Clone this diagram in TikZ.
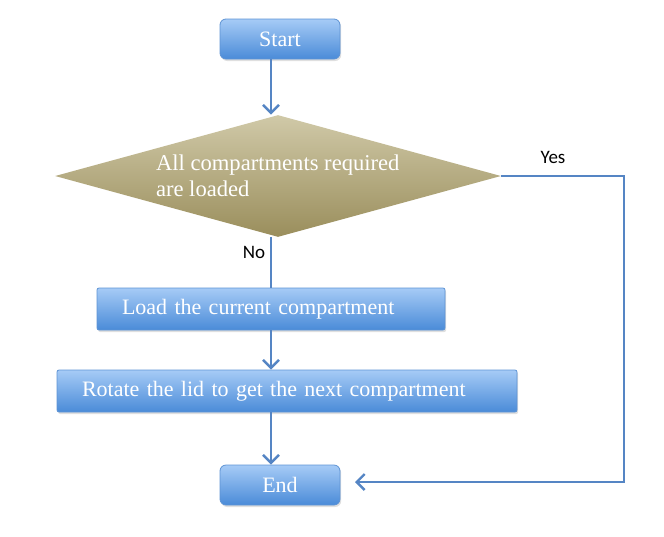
\documentclass[tikz,border=0pt]{standalone}
\usepackage{fontspec}
\setmainfont{Liberation Serif}
\newfontfamily\labelfont{Carlito}
\usetikzlibrary{arrows.meta,shapes.geometric,shadows}
\definecolor{boxtop}{HTML}{A6CBF6}
\definecolor{boxbot}{HTML}{4A8BD8}
\definecolor{boxline}{HTML}{5E93D4}
\definecolor{decitop}{HTML}{D0C9A8}
\definecolor{decibot}{HTML}{9A8E5C}
\definecolor{flowline}{HTML}{5585C4}

\tikzset{
  boxtext/.style={font=\fontsize{11}{13}\selectfont,text=white},
  terminal/.style={boxtext,draw=boxline,line width=0.4pt,top color=boxtop,bottom color=boxbot,
    rounded corners=3pt,minimum width=60pt,minimum height=20pt,inner sep=0pt,
    drop shadow={opacity=0.25,shadow xshift=0.6pt,shadow yshift=-1pt}},
  process/.style={boxtext,draw=boxline,line width=0.4pt,top color=boxtop,bottom color=boxbot,
    rounded corners=1pt,minimum height=21pt,inner xsep=12.5pt,inner ysep=0pt,align=left,
    drop shadow={opacity=0.25,shadow xshift=0.6pt,shadow yshift=-1pt}},
  decision/.style={boxtext,font=\fontsize{11.3}{13}\selectfont,diamond,top color=decitop,
    bottom color=decibot,aspect=3.6,inner sep=0pt,minimum width=223pt,minimum height=61pt,align=left},
  flow/.style={flowline,line width=1.4pt,-{Straight Barb[length=4pt,width=8pt,line width=1.2pt]}},
  plain/.style={flowline,line width=1.4pt},
  answer/.style={font=\labelfont\fontsize{9.5}{11}\selectfont}
}

\begin{document}
\begin{tikzpicture}[x=0.5pt,y=-0.5pt]
  \useasboundingbox (0,0) rectangle (664,536);

  \node[terminal] (start) at (280,39) {Start};
  \node[decision] (diam) at (278,176) {\raisebox{2pt}{\parbox{122pt}{All compartments required\\are loaded}}};
  \node[process,text width=149pt] (load) at (271,309) {Load the current compartment};
  \node[process,text width=205pt] (rot) at (287,391) {Rotate the lid to get the next compartment};
  \node[terminal] (end) at (280,485) {End};

  \node[answer] (yes) at (553,157) {Yes};
  \node[answer] (no) at (254,252) {No};

  \coordinate (turn) at (624,330);
  \coordinate (endin) at (355,482);

  \draw[flow] (load.north |- start.south) -- (load.north |- diam.north);
  \draw[plain] (load.north |- diam.south) -- (load.north);
  \draw[flow] (load.south) -- (load.south |- rot.north);
  \draw[flow] (load.south |- rot.south) -- (load.south |- end.north);
  \draw[flow] (diam.east) -| (turn) |- (endin);
\end{tikzpicture}
\end{document}
